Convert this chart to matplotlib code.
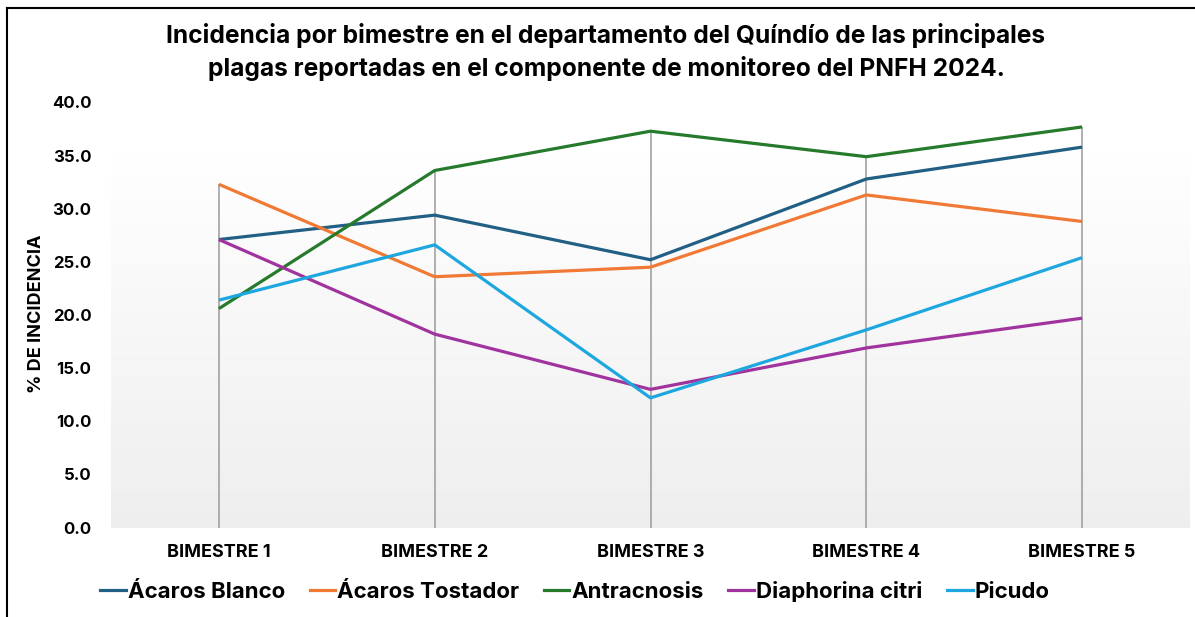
import numpy as np
import matplotlib
matplotlib.use('Agg')
from matplotlib import pyplot as plt
from matplotlib.lines import Line2D

#------------------------------------------------------------
# data
bimestres = ['BIMESTRE 1', 'BIMESTRE 2', 'BIMESTRE 3', 'BIMESTRE 4', 'BIMESTRE 5']
acaros_blanco = [27.1, 29.4, 25.2, 32.8, 35.8]
acaros_tostador = [32.3, 23.6, 24.5, 31.3, 28.8]
antracnosis = [20.6, 33.6, 37.3, 34.9, 37.7]
diaphorina = [27.1, 18.2, 13.0, 16.9, 19.7]
picudo = [21.4, 26.6, 12.2, 18.6, 25.4]

series = [('Ácaros Blanco', acaros_blanco, '#215f84'),
          ('Ácaros Tostador', acaros_tostador, '#f07a35'),
          ('Antracnosis', antracnosis, '#267a2c'),
          ('Diaphorina citri', diaphorina, '#a1339f'),
          ('Picudo', picudo, '#1ea7df')]

plt.rcParams['font.family'] = ['Inter', 'DejaVu Sans']

W, H = 1195, 617
fig = plt.figure(figsize=(W / 100, H / 100), dpi=100)
ax = fig.add_axes([111 / W, 1 - 527.5 / H, (1190 - 111) / W, 425 / H])

x = np.arange(len(bimestres))

# gradient background of the plot area
grad = np.linspace(1.0, 0.935, 256).reshape(-1, 1)
ax.imshow(np.dstack([grad, grad, grad]), extent=(-0.5, 4.5, 0, 35.3),
          aspect='auto', zorder=0, origin='upper')

# drop lines from the highest point down to the axis
tops = np.max([s[1] for s in series], axis=0)
ax.vlines(x, 0, tops, color='#9a9a9a', lw=1.1, zorder=1)

for name, vals, col in series:
    ax.plot(x, vals, color=col, lw=2.3, label=name, zorder=3,
            solid_capstyle='butt')

ax.set_xlim(-0.5, 4.5)
ax.set_ylim(0, 40)
ax.set_yticks(np.arange(0, 41, 5))
ax.set_yticklabels(['%.1f' % v for v in np.arange(0, 41, 5)],
                   fontsize=12, fontweight='bold')
ax.set_xticks(x)
ax.set_xticklabels(bimestres, fontsize=13, fontweight='bold')
ax.tick_params(axis='x', length=0, pad=12)
ax.tick_params(axis='y', length=0, pad=14)
for sp in ax.spines.values():
    sp.set_visible(False)

fig.text(37 / W, 1 - 314 / H, '% DE INCIDENCIA', rotation=90,
         ha='center', va='center', fontsize=13, fontweight='bold')

fig.text(606 / W, 1 - 52 / H,
         'Incidencia por bimestre en el departamento del Quíndío de las principales\n'
         'plagas reportadas en el componente de monitoreo del PNFH 2024.',
         ha='center', va='center', fontsize=17.7, fontweight='bold',
         linespacing=1.4)

handles = [Line2D([], [], color=c, lw=2.3) for _, _, c in series]
fig.legend(handles, [s[0] for s in series], loc='center', ncol=5,
           bbox_to_anchor=(575 / W, 1 - 591 / H), frameon=False,
           prop={'size': 16, 'weight': 'bold'}, handlelength=1.15,
           handletextpad=0.1, columnspacing=1.1)

# outer frame (top and left edges as in the reference)
fig.add_artist(Line2D([7 / W, 1], [1 - 8 / H, 1 - 8 / H], color='black', lw=1.5,
                      transform=fig.transFigure))
fig.add_artist(Line2D([7 / W, 7 / W], [0, 1 - 8 / H], color='black', lw=1.5,
                      transform=fig.transFigure))

fig.savefig('out.png', dpi=100)
